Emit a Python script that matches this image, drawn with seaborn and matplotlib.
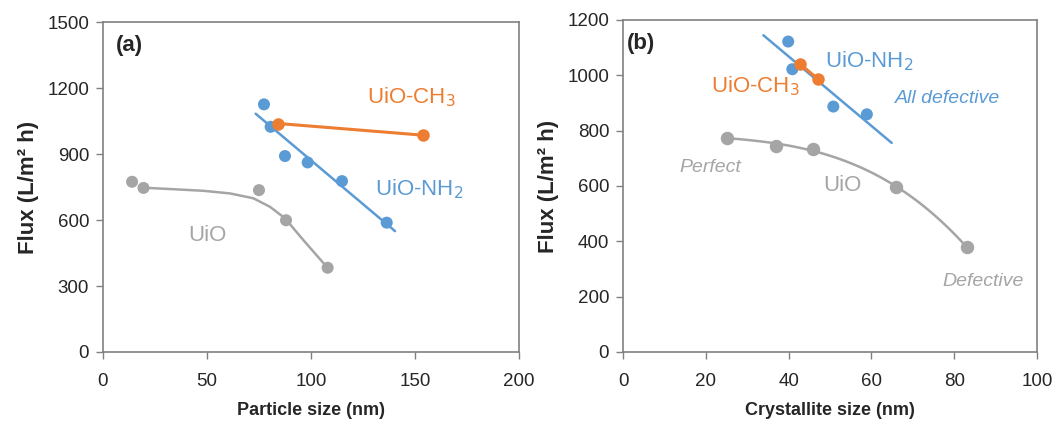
import matplotlib
matplotlib.use("Agg")
import matplotlib.pyplot as plt
import numpy as np
import seaborn as sns

# panel (a): flux vs particle size
a_uio_x = [14, 19.5, 75, 88, 108]
a_uio_y = [774, 746, 736, 599, 383]
# the UiO guide curve of panel (a)
a_curve_x = [19.4, 32.2, 48.2, 61.1, 72.3, 80.3, 87.5, 96.3, 107.5]
a_curve_y = [747, 741, 733, 721, 699, 660, 608, 509, 388]
a_nh2_x = [77.4, 80.6, 87.5, 98.4, 114.9, 136.4]
a_nh2_y = [1126, 1024, 891, 862, 777, 588]
a_ch3_x = [84.3, 153.7]
a_ch3_y = [1039, 986]

# panel (b): flux vs crystallite size
b_uio_x = [25, 37, 46, 66, 83]
b_uio_y = [775, 745, 735, 595, 380]
b_nh2_x = [39.9, 40.9, 50.8, 58.9]
b_nh2_y = [1122, 1022, 887, 859]
b_ch3_x = [42.8, 47.0]
b_ch3_y = [1040, 988]

BLUE = "#5B9BD5"
ORANGE = "#ED7D31"
GRAY = "#A5A5A5"

sns.set_theme(style="white")
plt.rcParams["font.family"] = ["Liberation Sans", "DejaVu Sans"]

fig = plt.figure(figsize=(10.56, 4.34), dpi=100)
ax_a = fig.add_axes([0.0975, 0.189, 0.394, 0.760])
ax_b = fig.add_axes([0.590, 0.189, 0.392, 0.765])


def trend(ax, x, y, color, extend):
    # linear trendline, stretched a little past the data like the spreadsheet one
    k, c = np.polyfit(x, y, 1)
    xs = np.array([min(x) - extend, max(x) + extend])
    ax.plot(xs, k * xs + c, color=color, lw=1.8, zorder=2)


def draw_modified(ax, nh2_x, nh2_y, ch3_x, ch3_y, extend):
    sns.scatterplot(x=nh2_x, y=nh2_y, ax=ax, color=BLUE, s=75, edgecolor="none", zorder=3)
    trend(ax, nh2_x, nh2_y, BLUE, extend)
    sns.lineplot(x=ch3_x, y=ch3_y, ax=ax, color=ORANGE, lw=2.2, marker="o",
                 markersize=9, markeredgewidth=0, zorder=4)


# panel (a)
sns.lineplot(x=a_curve_x, y=a_curve_y, ax=ax_a, color=GRAY, lw=1.8, zorder=2)
sns.scatterplot(x=a_uio_x, y=a_uio_y, ax=ax_a, color=GRAY, s=75, edgecolor="none", zorder=3)
draw_modified(ax_a, a_nh2_x, a_nh2_y, a_ch3_x, a_ch3_y, 4)

# panel (b)
sns.regplot(x=b_uio_x, y=b_uio_y, order=3, ci=None, ax=ax_b, color=GRAY,
            scatter_kws={"s": 75, "zorder": 3, "alpha": 1},
            line_kws={"lw": 1.8, "zorder": 2})
draw_modified(ax_b, b_nh2_x, b_nh2_y, b_ch3_x, b_ch3_y, 6)

ax_a.set_xlim(0, 200)
ax_a.set_ylim(0, 1500)
ax_a.set_xticks(range(0, 201, 50))
ax_a.set_yticks(range(0, 1501, 300))
ax_b.set_xlim(0, 100)
ax_b.set_ylim(0, 1200)
ax_b.set_xticks(range(0, 101, 20))
ax_b.set_yticks(range(0, 1201, 200))

for ax, xlabel in [(ax_a, "Particle size (nm)"), (ax_b, "Crystallite size (nm)")]:
    ax.set_xlabel(xlabel, fontsize=13, fontweight="bold", labelpad=9)
    ax.set_ylabel("Flux (L/m² h)", fontsize=16, fontweight="bold", labelpad=6)
    ax.tick_params(axis="both", direction="out", length=5, width=1, color="#808080",
                   labelsize=13.5, bottom=True, left=True)
    ax.tick_params(axis="x", pad=10)
    ax.tick_params(axis="y", pad=5)
    for spine in ax.spines.values():
        spine.set_color("#808080")
        spine.set_linewidth(1.2)

ax_a.text(0.03, 0.93, "(a)", transform=ax_a.transAxes, fontsize=16, fontweight="bold",
          ha="left", va="center")
ax_a.text(148, 1160, "UiO-CH$_3$", color=ORANGE, fontsize=16, ha="center", va="center")
ax_a.text(152, 740, "UiO-NH$_2$", color=BLUE, fontsize=16, ha="center", va="center")
ax_a.text(50, 530, "UiO", color=GRAY, fontsize=16, ha="center", va="center")

ax_b.text(0.01, 0.93, "(b)", transform=ax_b.transAxes, fontsize=16, fontweight="bold",
          ha="left", va="center")
ax_b.text(59.5, 1050, "UiO-NH$_2$", color=BLUE, fontsize=16, ha="center", va="center")
ax_b.text(32, 960, "UiO-CH$_3$", color=ORANGE, fontsize=16, ha="center", va="center")
ax_b.text(78.5, 915, "All defective", color=BLUE, fontsize=14, style="italic",
          ha="center", va="center")
ax_b.text(21, 665, "Perfect", color=GRAY, fontsize=14, style="italic", ha="center", va="center")
ax_b.text(53, 600, "UiO", color=GRAY, fontsize=16, ha="center", va="center")
ax_b.text(87, 255, "Defective", color=GRAY, fontsize=14, style="italic", ha="center", va="center")

fig.savefig("out.png", dpi=100)
